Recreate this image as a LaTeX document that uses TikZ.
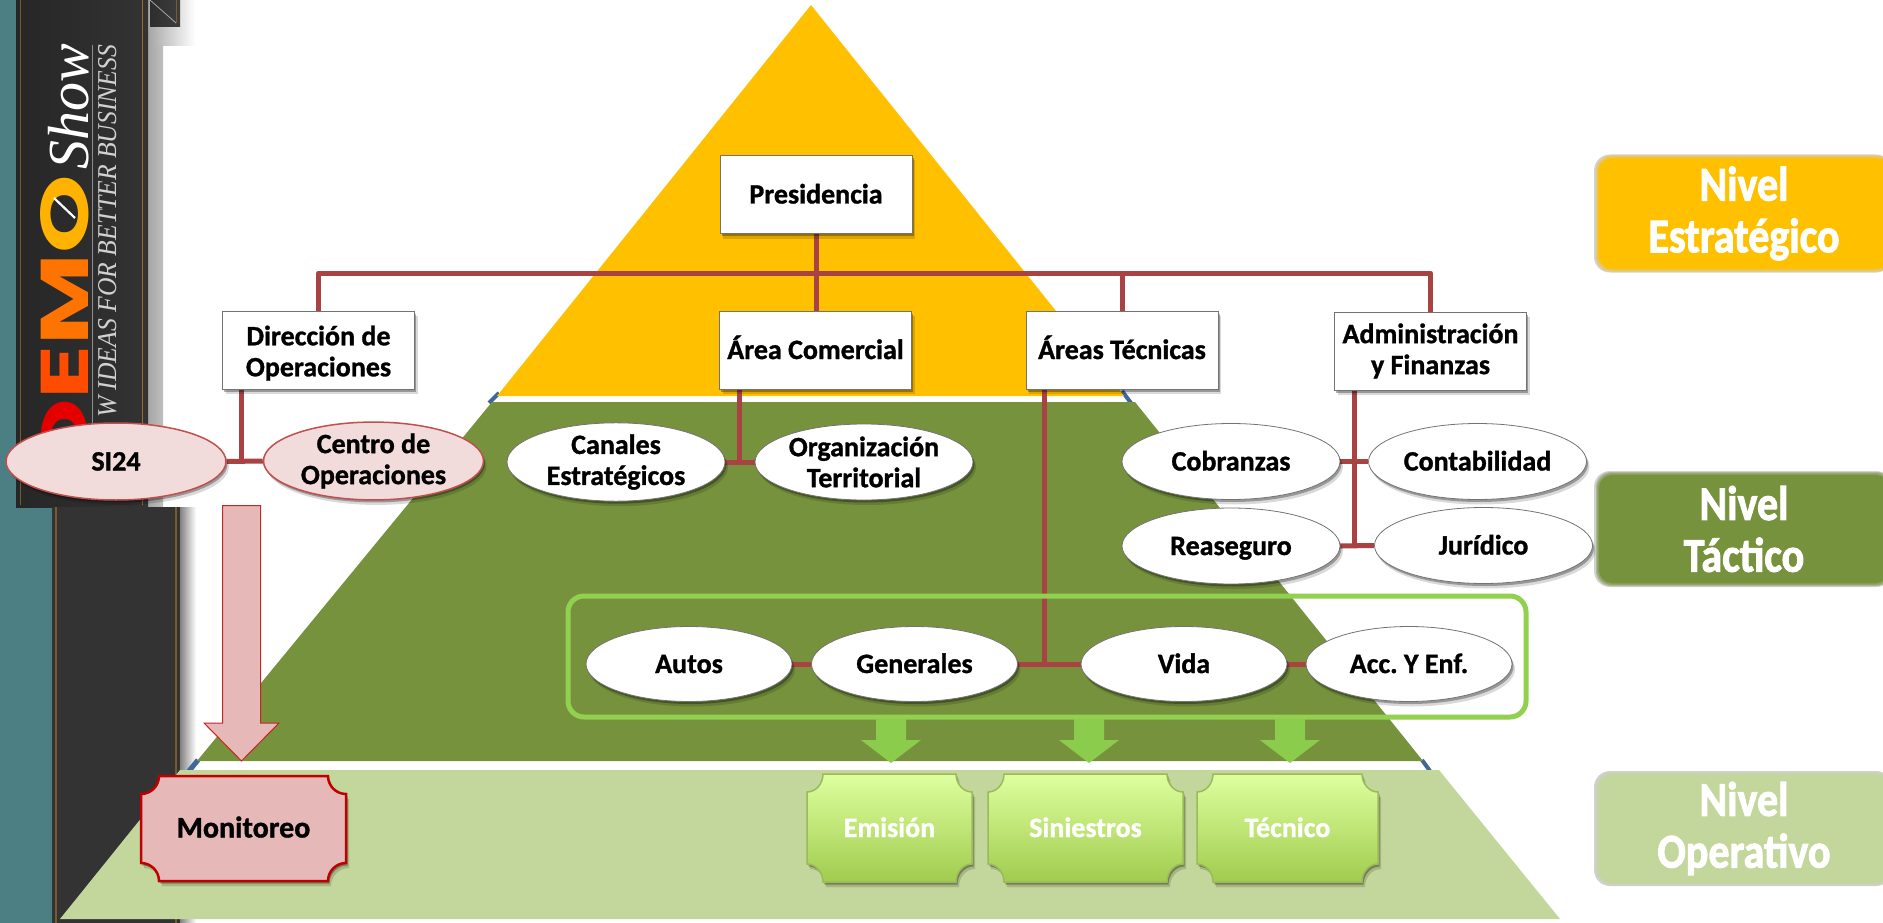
\documentclass[tikz,border=0pt]{standalone}
\usepackage{fontspec}
\setmainfont{Carlito}
\newfontfamily\serifface{Liberation Serif}
\newfontfamily\logoface{Poppins}
\newfontfamily\labelface[FakeBold=1.1]{Carlito Bold}
\newfontfamily\fatface[FakeBold=2.2]{Carlito Bold}
\usetikzlibrary{shapes.geometric,shadows}
\pgfdeclarelayer{bg}\pgfdeclarelayer{mid}\pgfsetlayers{bg,mid,main}
\definecolor{yel}{HTML}{FFC000}
\definecolor{olive}{HTML}{76923C}
\definecolor{pale}{HTML}{C3D69B}
\definecolor{linkred}{HTML}{A94343}
\definecolor{rosefill}{HTML}{F2DCDB}
\definecolor{roseedge}{HTML}{C0504D}
\definecolor{pinkfill}{HTML}{E6B8B7}
\definecolor{deepred}{HTML}{C00000}
\definecolor{lime}{HTML}{92D050}
\definecolor{limearrow}{HTML}{8CCC4C}
\definecolor{limetop}{HTML}{DEFF9F}
\definecolor{limebot}{HTML}{A0CC4E}
\definecolor{limeedge}{HTML}{9BBB59}
\definecolor{teal1}{HTML}{4B7F83}
\definecolor{bluegap}{HTML}{3F6797}
\definecolor{trim}{HTML}{7A5A2A}
\tikzset{
  softshadow/.style={drop shadow={shadow xshift=1.5pt,shadow yshift=-2.5pt,opacity=.3,fill=black},drop shadow={shadow xshift=3pt,shadow yshift=-5pt,opacity=.15,fill=black}},
  lbl/.style={font=\fontsize{28}{31}\labelface,align=center,text=black,inner sep=0pt},
  oneline/.style={text height=22pt,text depth=4pt},
  boxnode/.style={lbl,rectangle,draw=black!55,line width=1pt,fill=white,minimum width=192pt,minimum height=78pt,softshadow},
  oval/.style={lbl,ellipse,draw=black!55,line width=.8pt,fill=white,minimum width=218pt,minimum height=76pt,softshadow},
  smalloval/.style={oval,minimum width=206pt,minimum height=75pt},
  roseoval/.style={oval,draw=roseedge,line width=1.5pt,fill=rosefill,minimum width=220pt,minimum height=77pt},
  link/.style={draw=linkred,line width=5pt,line join=round},
  plaquepink/.style={draw=deepred,line width=2.5pt,fill=pinkfill,softshadow},
  plaquegreen/.style={draw=limeedge,line width=1.5pt,top color=limetop,bottom color=limebot,softshadow},
  whitetxt/.style={font=\fontsize{28}{31}\labelface,text=white,inner sep=0pt},
  levellbl/.style={font=\fontsize{42}{45}\fatface,align=center,text=white,inner sep=0pt},
}
\newcommand\plaque[9]{%
  \path[#1] ({#3+#7},#5) -- ({#4-#7},#5)
    .. controls ({#4-#7},{#5+.55*#8}) and ({#4-.55*#7},{#5+#8}) .. (#4,{#5+#8})
    -- (#4,{#6-#8})
    .. controls ({#4-.55*#7},{#6-#8}) and ({#4-#7},{#6-.55*#8}) .. ({#4-#7},#6)
    -- ({#3+#7},#6)
    .. controls ({#3+#7},{#6-.55*#8}) and ({#3+.55*#7},{#6-#8}) .. (#3,{#6-#8})
    -- (#3,{#5+#8})
    .. controls ({#3+.55*#7},{#5+#8}) and ({#3+#7},{#5+.55*#8}) .. ({#3+#7},#5) -- cycle;
  \node[#2] at ({(#3+#4)/2},{(#5+#6)/2}) {#9};}
\newcommand\softbox[5]{%
  \node[fill=black,fill opacity=.18,rounded corners=16pt,minimum width=298pt,minimum height={#3 pt+2pt}] at (1743,#2) {};
  \foreach \e in {4,2,0}{\node[fill=#4,fill opacity=.4,rounded corners=15pt,minimum width={292pt+\e pt},minimum height={#3 pt-4pt+\e pt}] at (1744,#2) {};}
  \node[fill=#4,rounded corners=13pt,minimum width=290pt,minimum height=#3 pt-6pt,levellbl] (#1) at (1744,#2) {\scalebox{1}[1.15]{\parbox{280pt}{\centering #5}}};}
\newcommand\blockarrow[6]{%
  \path[#1] ({#2-#6/2},#3) -- ({#2+#6/2},#3) -- ({#2+#6/2},#4) -- ({#2+#6},#4) -- (#2,#5) -- ({#2-#6},#4) -- ({#2-#6/2},#4) -- cycle;}
\begin{document}
\begin{tikzpicture}[x=1pt,y=-1pt]
\useasboundingbox (0,0) rectangle (1883,923);
\begin{pgfonlayer}{bg}
\fill[white] (0,0) rectangle (1883,923);
% banner
\fill[teal1] (0,0) rectangle (16,507);
\fill[teal1] (0,507) rectangle (52,923);
\shade[left color=black!35,right color=white] (148,0) rectangle (195,46);
\shade[left color=black!35,right color=black!25] (148,46) rectangle (163,507);
\shade[left color=black!55,middle color=black!8,right color=white] (178,507) rectangle (196,923);
\shade[left color=black!85,middle color=black!72,right color=black!80,shading angle=90] (16,0) rectangle (148,507);
\shade[left color=black!82,right color=black!76] (150,0) rectangle (180,27);
\draw[black!35,line width=.8pt] (150,0) -- (176,23);
\draw[trim,line width=.8pt] (176,0) -- (176,23);
\fill[black!80] (52,507) rectangle (180,923);
\draw[trim,line width=1pt] (20,0) -- (20,505);
\draw[trim!80!yel,line width=1pt] (142,0) -- (142,505);
\draw[trim,line width=2pt] (56,507) -- (56,923);
\draw[trim,line width=2pt] (176,507) -- (176,923);
\draw[black!45,line width=1pt] (92,45) -- (92,425);
\node[rotate=90,anchor=base west,inner sep=0pt,text=white,font=\fontsize{58}{58}\serifface\itshape] (showtxt) at (88,170) {Show};
\node[rotate=90,anchor=base west,inner sep=0pt,text=black!18] (tagline) at (116,418) {\resizebox{373pt}{18pt}{\serifface\itshape W IDEAS FOR BETTER BUSINESS}};
\node[rotate=90,anchor=base west,inner sep=0pt] (logo) at (88,472) {\resizebox{297pt}{48pt}{\logoface\bfseries\textcolor{red!90!black}{D}\textcolor{orange!60!red}{E}\textcolor{orange!90!red}{M}\textcolor{yel!80!orange}{O}}};
\draw[white,line width=2.2pt] (54,198) -- (75,218);
% pyramid
\draw[bluegap,line width=4pt] (499,393) -- (489,403);
\draw[bluegap,line width=4pt] (1122,391) -- (1131,403);
\draw[bluegap,line width=5pt] (198,760) -- (189,771);
\draw[bluegap,line width=4pt] (1422,760) -- (1430,771);
\fill[yel] (811,5) -- (1124,396) -- (497,396) -- cycle;
\fill[olive] (492,402) -- (1135,402) -- (1423,761) -- (197,761) -- cycle;
\fill[pale] (180,770) -- (1439,770) -- (1560,919) -- (60,919) -- cycle;
\end{pgfonlayer}
% level labels
\softbox{lvlA}{213.5}{116}{yel}{Nivel\\Estratégico}
\softbox{lvlB}{529}{114}{olive}{Nivel\\Táctico}
\softbox{lvlC}{828.5}{113}{pale}{Nivel\\Operativo}
% boxes
\node[boxnode,oneline] (pres) at (816,194.5) {Presidencia};
\node[boxnode] (dir) at (318.5,350) {\rule{0pt}{26pt}Dirección de\\Operaciones};
\node[boxnode,oneline] (acom) at (815.5,350) {Área Comercial};
\node[boxnode,oneline] (atec) at (1122,350) {Áreas Técnicas};
\node[boxnode] (adm) at (1430.5,351) {Administración\\y Finanzas};
% ovals
\node[roseoval,oneline] (si) at (116,461.5) {SI24};
\node[roseoval] (cop) at (373.5,461) {Centro de\\Operaciones};
\node[oval] (can) at (616,462) {Canales\\Estratégicos};
\node[oval] (org) at (864,462) {Organización\\Territorial};
\node[oval,oneline] (cob) at (1231,461.5) {Cobranzas};
\node[oval,oneline] (con) at (1477.5,461.5) {Contabilidad};
\node[oval,oneline] (rea) at (1231,546) {Reaseguro};
\node[oval,oneline] (jur) at (1483.5,545.5) {Jurídico};
% framed group
\node[draw=lime,line width=5pt,rounded corners=16pt,minimum width=958pt,minimum height=121pt,inner sep=0pt] (frame) at (1047,656.5) {};
\node[smalloval,oneline] (aut) at (689,664) {Autos};
\node[smalloval,oneline] (gen) at (914.5,664) {Generales};
\node[smalloval,oneline] (vid) at (1184,664) {Vida};
\node[smalloval,oneline] (acc) at (1409,664) {Acc.\ Y Enf.};
% arrows
\blockarrow{fill=limearrow}{891}{719}{740}{763}{30}
\blockarrow{fill=limearrow}{1089}{719}{740}{763}{30}
\blockarrow{fill=limearrow}{1290}{719}{740}{763}{30}
\path[fill=pinkfill,draw=roseedge!50!deepred,line width=1pt] (222.7,505.7) -- (260.7,505.7) -- (260.7,723) -- (279,723) -- (241.5,761) -- (204,723) -- (222.7,723) -- cycle;
% plaques
\plaque{plaquepink}{lbl,oneline,font=\fontsize{30}{31}\labelface,name=mon}{141}{346}{776}{881}{18}{18}{Monitoreo}
\plaque{plaquegreen}{whitetxt,oneline,name=emi}{807}{972}{774}{882}{16}{18}{Emisión}
\plaque{plaquegreen}{whitetxt,oneline,name=sin}{988}{1183}{774}{882}{16}{18}{Siniestros}
\plaque{plaquegreen}{whitetxt,oneline,name=tec}{1197}{1378}{774}{882}{16}{18}{Técnico}
% connectors
\begin{pgfonlayer}{mid}
\coordinate (bus) at (816,273);
\draw[link] (pres.south) -- (pres.south |- acom.north);
\draw[link] (dir.north) |- (bus) -| (adm.north);
\draw[link] (atec.north) -- (atec.north |- bus);
\draw[link] (si.east) -- (cop.west);
\draw[link] ([xshift=-77.5pt]dir.south) -- ([xshift=-77.5pt]dir.south |- si.east);
\draw[link] (can.east) -- (org.west);
\draw[link] ([xshift=-76.5pt]acom.south) -- ([xshift=-76.5pt]acom.south |- can.east);
\draw[link] (cob.east) -- (con.west);
\draw[link] (rea.east) -- (jur.west);
\draw[link] ([xshift=-76.5pt]adm.south) -- ([xshift=-76.5pt]adm.south |- jur.west);
\draw[link] (aut.east) -- (gen.west);
\draw[link] (gen.east) -- (vid.west);
\draw[link] (vid.east) -- (acc.west);
\draw[link] ([xshift=-77.5pt]atec.south) -- ([xshift=-77.5pt]atec.south |- gen.east);
\end{pgfonlayer}
\end{tikzpicture}
\end{document}
